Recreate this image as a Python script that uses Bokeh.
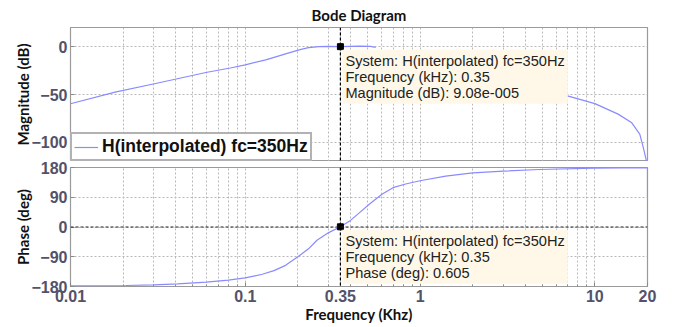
import numpy as np
from bokeh.plotting import figure
from bokeh.models import Range1d, FixedTicker, Span, Label
from bokeh.layouts import column
from bokeh.embed import file_html
from bokeh.resources import INLINE

# ---- data (frequency in kHz) ----
freq_mag = [0.01, 0.018, 0.0307, 0.0595, 0.082, 0.1, 0.131, 0.17, 0.203, 0.23, 0.264, 0.3, 0.35,
            0.45, 0.52, 0.557, 1.0, 6.97, 10, 13.58, 16.18, 18.06, 18.9, 19.7, 20]
mag_db = [-59.7, -47.6, -38.5, -27.0, -22.3, -19.0, -13.8, -7.5, -3.4, -1.0, 0.0, 0.3, 0.0,
          0.5, 0.3, -0.8, np.nan, -51.5, -59.5, -70.5, -79.2, -91.3, -105, -119, -120]

freq_ph = [0.01, 0.0208, 0.03, 0.041, 0.06, 0.08, 0.1, 0.125, 0.146, 0.17, 0.2, 0.23, 0.257,
           0.3, 0.35, 0.4, 0.447, 0.52, 0.608, 0.7, 0.827, 1, 1.4, 2, 3, 4.8, 10, 20, 20]
phase_deg = [-178, -177, -175, -172, -167, -161, -154, -143, -132, -116, -90, -66, -40,
             -17, 0.605, 20, 42, 72, 100, 119, 130, 140, 154, 164, 169, 174, 178, 179.5, 90]

cursor_freq = 0.35
cursor_mag = 9.08e-5
cursor_phase = 0.605

x_ticks = [0.01, 0.1, 0.35, 1, 10, 20]
x_tick_labels = ["0.01", "0.1", "0.35", "1", "10", "20"]
x_minor = [0.02, 0.03, 0.04, 0.05, 0.06, 0.07, 0.08, 0.09,
           0.2, 0.3, 0.4, 0.5, 0.6, 0.7, 0.8, 0.9,
           2, 3, 4, 5, 6, 7, 8, 9]
mag_ticks = [-100, -50, 0]
ph_ticks = [-180, -90, 0, 90, 180]

series_name = "H(interpolated) fc=350Hz"
line_color = "#8a8aff"
tick_color = "#52526a"
grid_color = "#b8b8b8"
tip_bg = "#fff8e8"

x_range = Range1d(0.01, 20)


def style(p, yticks):
    p.outline_line_color = "#9a9a9a"
    p.outline_line_width = 1.2
    p.background_fill_color = "white"
    p.border_fill_color = "white"
    p.xaxis.ticker = FixedTicker(ticks=x_ticks, minor_ticks=x_minor)
    p.xaxis.major_label_overrides = {t: l for t, l in zip(x_ticks, x_tick_labels)}
    p.yaxis.ticker = FixedTicker(ticks=yticks)
    for ax in (p.xaxis[0], p.yaxis[0]):
        ax.axis_line_color = None
        ax.major_tick_in = 4
        ax.major_tick_out = 0
        ax.minor_tick_in = 2
        ax.minor_tick_out = 0
        ax.major_tick_line_color = "#888888"
        ax.minor_tick_line_color = "#888888"
        ax.major_label_text_font = "Liberation Sans"
        ax.major_label_text_font_style = "bold"
        ax.major_label_text_font_size = "16px"
        ax.major_label_text_color = tick_color
        ax.axis_label_text_font = "Lato"
        ax.axis_label_text_font_style = "bold"
        ax.axis_label_text_font_size = "15px"
        ax.axis_label_text_color = "#111111"
        ax.major_label_standoff = 3
    p.yaxis.axis_label_standoff = -4
    p.xaxis.axis_label_standoff = 0
    p.xgrid.ticker = FixedTicker(ticks=x_ticks, minor_ticks=x_minor)
    p.ygrid.ticker = FixedTicker(ticks=yticks)
    for g in (p.xgrid[0], p.ygrid[0]):
        g.grid_line_color = grid_color
        g.grid_line_dash = "2 2"
        g.grid_line_width = 1
    p.xgrid.minor_grid_line_color = grid_color
    p.xgrid.minor_grid_line_dash = "2 2"
    p.xgrid.minor_grid_line_width = 1


def tip(text, y):
    return Label(x=cursor_freq, y=y, anchor="top_left", x_offset=2, y_offset=-3,
                 text=text, text_font="Liberation Sans", text_font_size="14.6px",
                 text_color="#222222", text_line_height=1.0,
                 background_fill_color=tip_bg, padding=3)


# ---- magnitude ----
p1 = figure(width=678, height=161, x_axis_type="log", x_range=x_range,
            y_range=Range1d(-120, 20), output_backend="svg", toolbar_location=None,
            min_border_left=70, min_border_right=31, min_border_top=26, min_border_bottom=0,
            title="Bode Diagram")
style(p1, mag_ticks)
p1.xaxis.visible = False
p1.yaxis.axis_label = "Magnitude (dB)"
p1.title.align = "center"
p1.title.text_font = "Lato"
p1.title.text_font_style = "bold"
p1.title.text_font_size = "15px"
p1.title.text_color = "#111111"
p1.title.standoff = 7

p1.line(freq_mag, mag_db, line_color=line_color, line_width=1.2, legend_label=series_name)
p1.add_layout(Span(location=cursor_freq, dimension="height", line_color="black",
                   line_dash="3 2", line_width=1.2))
p1.scatter([cursor_freq], [cursor_mag], marker="square", size=6, color="black")
p1.add_layout(tip("System: " + series_name + "\nFrequency (kHz): 0.35\nMagnitude (dB): 9.08e-005",
                  cursor_mag))

lg = p1.legend[0]
lg.location = "bottom_left"
lg.margin = 0
lg.padding = 2
lg.spacing = 0
lg.border_line_color = "#666666"
lg.border_line_width = 2
lg.background_fill_color = "white"
lg.background_fill_alpha = 1
lg.label_text_font = "Liberation Sans"
lg.label_text_font_style = "bold"
lg.label_text_font_size = "17.5px"
lg.label_text_color = "#111111"
lg.glyph_width = 24
lg.glyph_height = 18
lg.label_height = 18
lg.label_standoff = 4

# ---- phase ----
p2 = figure(width=678, height=166, x_axis_type="log", x_range=x_range,
            y_range=Range1d(-180, 180), output_backend="svg", toolbar_location=None,
            min_border_left=70, min_border_right=31, min_border_top=6, min_border_bottom=41)
style(p2, ph_ticks)
p2.yaxis.axis_label = "Phase (deg)"
p2.xaxis.axis_label = "Frequency (Khz)"

p2.line(freq_ph, phase_deg, line_color=line_color, line_width=1.2)
p2.add_layout(Span(location=cursor_freq, dimension="height", line_color="black",
                   line_dash="3 2", line_width=1.2))
p2.add_layout(Span(location=0, dimension="width", line_color="#222222",
                   line_dash="3 2", line_width=1.2))
p2.scatter([cursor_freq], [cursor_phase], marker="square", size=6, color="black")
p2.add_layout(tip("System: " + series_name + "\nFrequency (kHz): 0.35\nPhase (deg): 0.605",
                  cursor_phase))

layout = column(p1, p2, spacing=0)
open("out.html", "w").write(file_html(layout, INLINE))
